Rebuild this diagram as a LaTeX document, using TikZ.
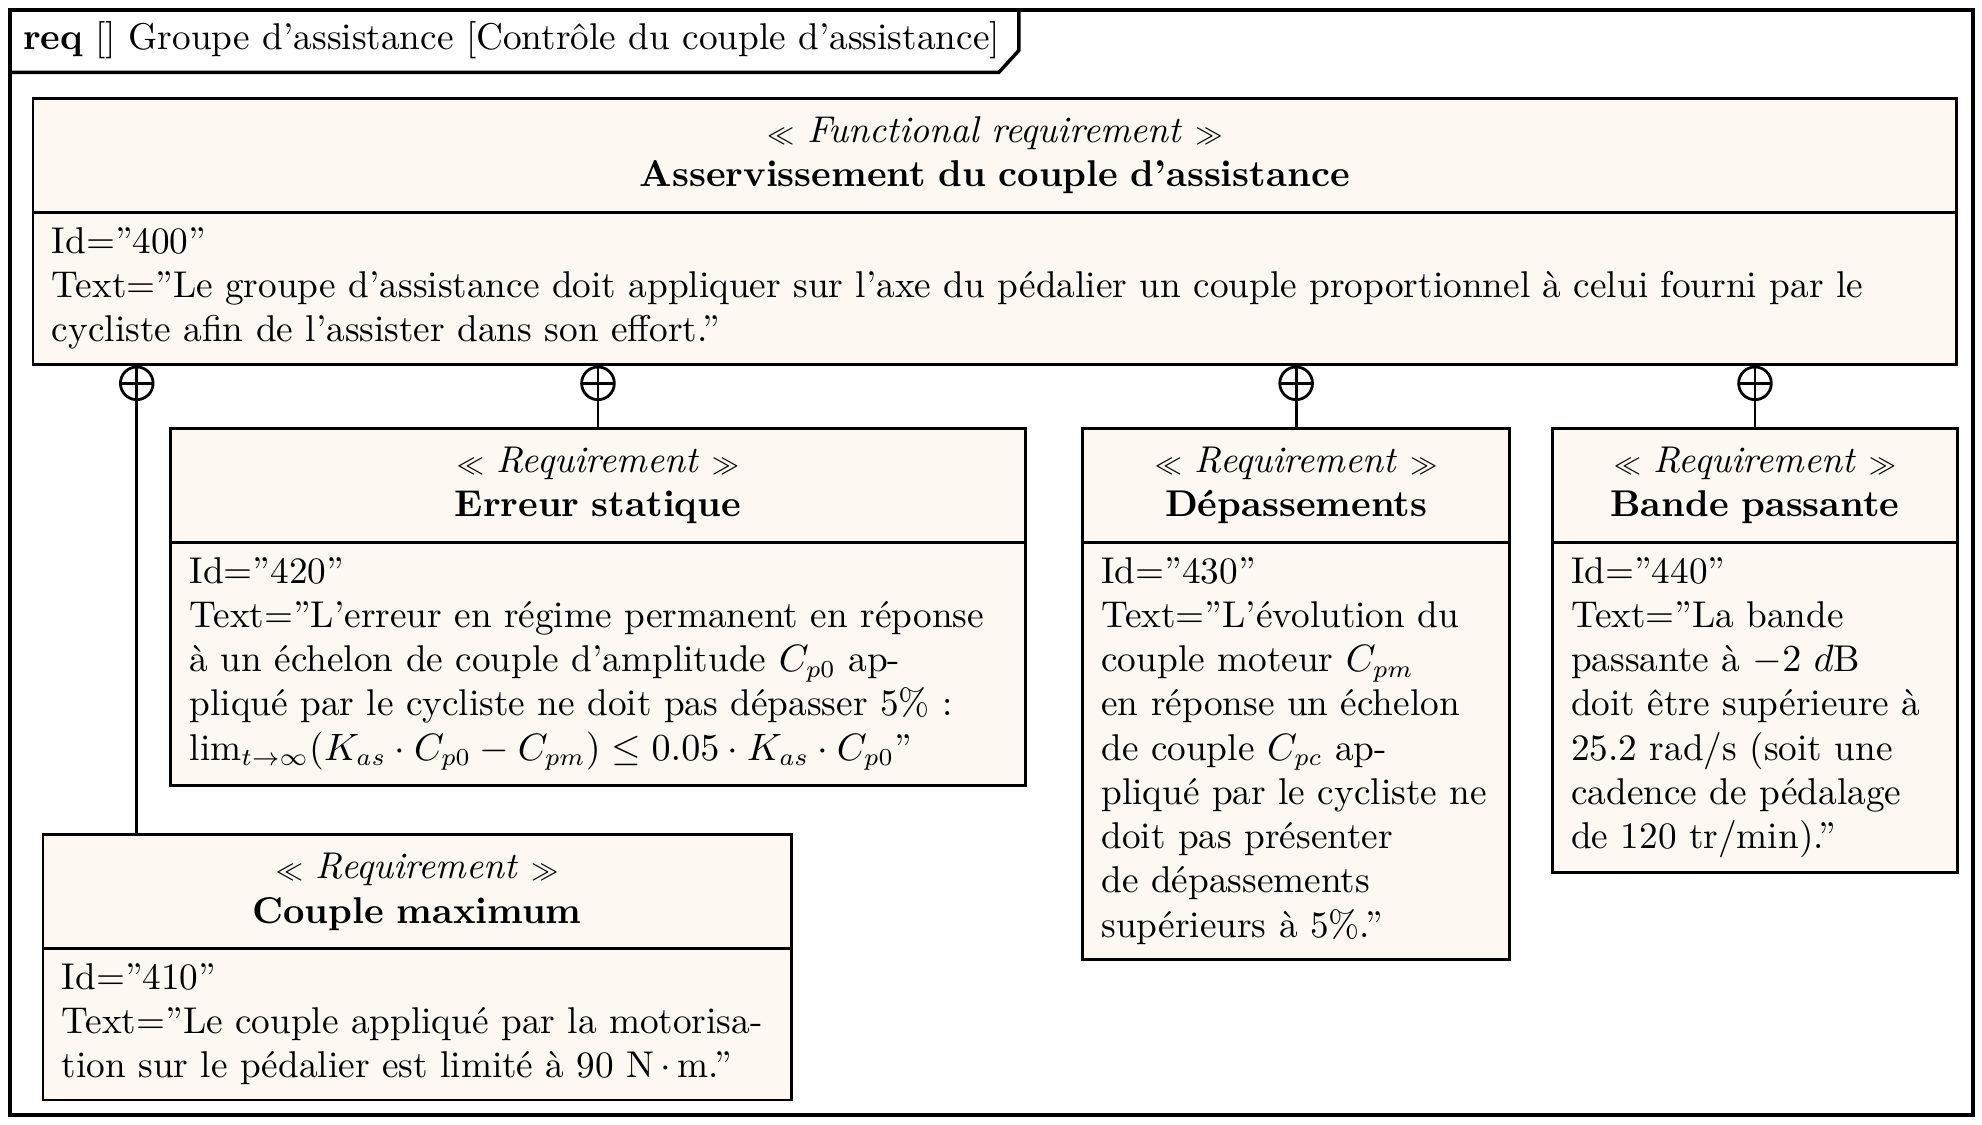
\documentclass[tikz,border=0pt]{standalone}
\usepackage{fontspec}
\usepackage{amsmath}
\usetikzlibrary{positioning,calc}
\definecolor{reqfill}{RGB}{253,248,242}

\begin{document}
\begin{tikzpicture}[
  font=\fontsize{10.7}{12.7}\selectfont,
  node distance=-0.8pt,
  box/.style   ={draw,fill=reqfill,line width=0.8pt},
  head/.style  ={box,align=center,minimum height=1.15cm,inner sep=0pt},
  body/.style  ={box,align=left,inner xsep=0.19cm,inner ysep=0.15cm},
  link/.style  ={line width=0.8pt},
  contain/.style={circle,draw,line width=0.8pt,minimum size=0.33cm,inner sep=0pt,
                  path picture={\draw[line width=0.8pt]
                    (path picture bounding box.north) -- (path picture bounding box.south)
                    (path picture bounding box.west) -- (path picture bounding box.east);}},
]

\useasboundingbox (0,0) rectangle (20,-11.352);

%% ===== Frame =================================================================
\draw[line width=1pt] (0.10,-0.10) rectangle (19.91,-11.25);
\draw[line width=1pt] (0.10,-0.73) -- (10.08,-0.73) -- (10.28,-0.51) -- (10.28,-0.10);
\node[anchor=west] (title) at (0.11,-0.41)
      {\textbf{req} [] Groupe d’assistance [Contrôle du couple d’assistance]};

%% ===== Parent requirement ====================================================
\node[head,anchor=north west,text width=19.41cm] (h400) at (0.32,-0.98)
      {$\scriptstyle\ll$ \textit{Functional requirement} $\scriptstyle\gg$\\
       \textbf{Asservissement du couple d’assistance}};
\node[body,below=of h400,text width=19.03cm] (b400)
      {Id=”400”\\
       Text=”Le groupe d’assistance doit appliquer sur l’axe du pédalier un couple proportionnel à celui fourni par le\\
       cycliste afin de l’assister dans son effort.”};

%% ===== Sub-requirements ======================================================
\node[head,anchor=north west,text width=8.62cm] (h420) at (1.71,-4.31)
      {$\scriptstyle\ll$ \textit{Requirement} $\scriptstyle\gg$\\ \textbf{Erreur statique}};
\node[body,below=of h420,text width=8.24cm] (b420)
      {Id=”420”\\
       Text=”L’erreur en régime permanent en réponse\\
       à un échelon de couple d’amplitude $C_{p0}$ ap-\\
       pliqué par le cycliste ne doit pas dépasser 5\% :\\
       $\lim_{t\to\infty}(K_{as}\cdot C_{p0}-C_{pm})\leq 0.05\cdot K_{as}\cdot C_{p0}$”};

\node[head,anchor=north west,text width=4.31cm] (h430) at (10.91,-4.31)
      {$\scriptstyle\ll$ \textit{Requirement} $\scriptstyle\gg$\\ \textbf{Dépassements}};
\node[body,below=of h430,text width=3.93cm] (b430)
      {Id=”430”\\
       Text=”L’évolution du\\
       couple moteur $C_{pm}$\\
       en réponse un échelon\\
       de couple $C_{pc}$ ap-\\
       pliqué par le cycliste ne\\
       doit pas présenter\\
       de dépassements\\
       supérieurs à 5\%.”};

\node[head,anchor=north west,text width=4.09cm] (h440) at (15.65,-4.31)
      {$\scriptstyle\ll$ \textit{Requirement} $\scriptstyle\gg$\\ \textbf{Bande passante}};
\node[body,below=of h440,text width=3.71cm] (b440)
      {Id=”440”\\
       Text=”La bande\\
       passante à $-2$ $d$B\\
       doit être supérieure à\\
       25.2 rad/s (soit une\\
       cadence de pédalage\\
       de 120 tr/min).”};

\node[head,anchor=north west,text width=7.55cm] (h410) at (0.42,-8.41)
      {$\scriptstyle\ll$ \textit{Requirement} $\scriptstyle\gg$\\ \textbf{Couple maximum}};
\node[body,below=of h410,text width=7.17cm] (b410)
      {Id=”410”\\
       Text=”Le couple appliqué par la motorisa-\\
       tion sur le pédalier est limité à 90 N$\,\cdot\,$m.”};

%% ===== Containment links =====================================================
\coordinate (k410) at ($(h410.north west)+(0.96,0)$);
\node[contain,anchor=north] (c410) at (k410 |- b400.south) {};
\node[contain,anchor=north] (c420) at (h420.north |- b400.south) {};
\node[contain,anchor=north] (c430) at (h430.north |- b400.south) {};
\node[contain,anchor=north] (c440) at (h440.north |- b400.south) {};

\foreach \c/\h in {c410/k410, c420/h420.north, c430/h430.north, c440/h440.north} {
  \draw[link] (\c.south) -- (\h);
}

\end{tikzpicture}
\end{document}
